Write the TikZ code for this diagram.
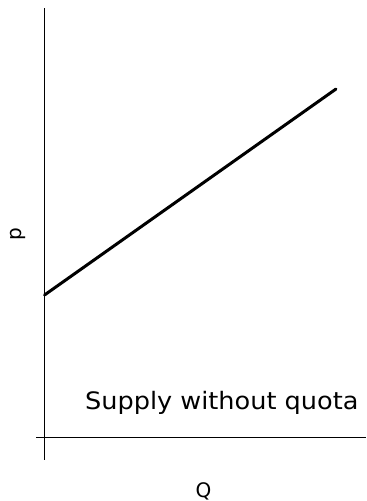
\documentclass[tikz,border=0pt]{standalone}
\usepackage{fontspec}
\setmainfont{DejaVu Sans}
\begin{document}
\begin{tikzpicture}[x=1pt,y=-1pt,line cap=butt]
  \useasboundingbox (0,0) rectangle (367,501);
  \coordinate (top) at (44.5,8);
  \coordinate (bot) at (44.5,460);
  \coordinate (left) at (36,437);
  \coordinate (right) at (366,437);
  \coordinate (S0) at (44.5,295);
  \coordinate (S1) at (336,89);
  \draw[line width=1pt] (top) -- (bot);
  \draw[line width=1pt] (left) -- (right);
  \draw[line width=3pt,line cap=round] (S0) -- (S1);
  \node[anchor=base west,inner sep=0pt,xscale=1.065,font=\fontsize{24}{28}\selectfont] (lab) at (85,409) {Supply without quota};
  \node[anchor=base,inner sep=0pt,font=\fontsize{20}{24}\selectfont] (Q) at (203.5,497) {Q};
  \node[rotate=90,inner sep=0pt,font=\fontsize{20}{24}\selectfont] (p) at (18,234) {p};
\end{tikzpicture}
\end{document}
